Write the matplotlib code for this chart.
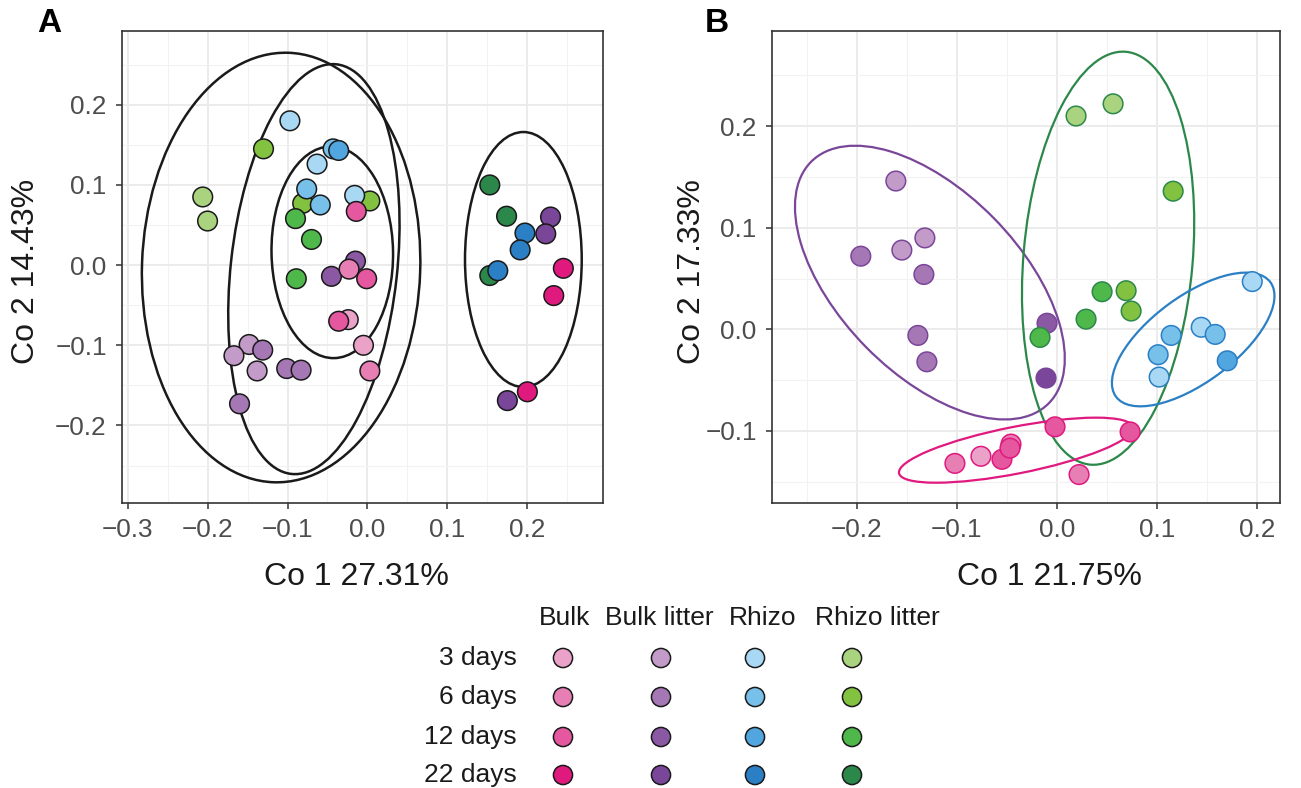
import matplotlib
matplotlib.use("Agg")
from matplotlib import pyplot as plt
from matplotlib.patches import Ellipse
import numpy as np

plt.rcParams["font.family"] = ["Liberation Sans", "DejaVu Sans"]

treatments = ["Bulk", "Bulk litter", "Rhizo", "Rhizo litter"]
times = ["3 days", "6 days", "12 days", "22 days"]

# fill colours, rows = treatment, cols = time
colors = {
    "Bulk": ["#EBA2C8", "#E87FB4", "#E5589F", "#E0197F"],
    "Bulk litter": ["#C39BC8", "#A578B5", "#8B58A4", "#7A4699"],
    "Rhizo": ["#A8D8F4", "#77C0EA", "#52A6DF", "#2B7FC4"],
    "Rhizo litter": ["#A9D37F", "#83C241", "#4FB84B", "#2C884A"],
}
group_line = {"Bulk": "#E0197F", "Bulk litter": "#7A4699",
              "Rhizo": "#2B7FC4", "Rhizo litter": "#2C884A"}

# ---------------------------------------------------------------- panel A
a_trt = ["Rhizo litter"] * 11 + ["Rhizo"] * 10 + ["Bulk litter"] * 12 + ["Bulk"] * 10
a_time = [0, 0, 1, 1, 1, 2, 2, 2, 3, 3, 3,
          0, 0, 0, 1, 1, 1, 2, 3, 3, 3,
          0, 0, 0, 1, 1, 1, 1, 2, 2, 3, 3, 3,
          0, 0, 1, 1, 2, 2, 2, 3, 3, 3]
a_x = [-0.206, -0.200, -0.130, -0.081, 0.003, -0.090, -0.070, -0.089, 0.153, 0.174, 0.153,
       -0.097, -0.063, -0.016, -0.076, -0.059, -0.043, -0.036, 0.197, 0.191, 0.163,
       -0.148, -0.167, -0.138, -0.131, -0.101, -0.083, -0.160, -0.045, -0.015, 0.229, 0.223, 0.175,
       -0.024, -0.005, -0.023, 0.003, -0.014, -0.001, -0.036, 0.245, 0.233, 0.200]
a_y = [0.085, 0.055, 0.145, 0.077, 0.080, 0.058, 0.032, -0.017, 0.100, 0.061, -0.013,
       0.180, 0.126, 0.087, 0.095, 0.075, 0.145, 0.143, 0.040, 0.019, -0.007,
       -0.099, -0.113, -0.132, -0.106, -0.129, -0.131, -0.173, -0.014, 0.005, 0.060, 0.039, -0.169,
       -0.068, -0.100, -0.005, -0.132, 0.067, -0.017, -0.070, -0.004, -0.038, -0.158]

# ellipses: centre x, centre y, width, height, angle
a_ell_x = [-0.108, -0.067, -0.044, 0.195]
a_ell_y = [-0.003, -0.005, 0.016, 0.007]
a_ell_w = [0.348, 0.208, 0.152, 0.146]
a_ell_h = [0.536, 0.514, 0.264, 0.318]
a_ell_ang = [-2, -6.3, 1, 0]

# ---------------------------------------------------------------- panel B
b_trt = ["Bulk litter"] * 9 + ["Rhizo litter"] * 8 + ["Rhizo"] * 7 + ["Bulk"] * 8
b_time = [0, 0, 0, 1, 1, 1, 1, 2, 3,
          0, 0, 1, 1, 1, 2, 2, 2,
          0, 0, 0, 1, 1, 1, 2,
          0, 1, 1, 1, 2, 2, 2, 2]
b_x = [-0.161, -0.155, -0.132, -0.196, -0.133, -0.139, -0.130, -0.010, -0.011,
       0.019, 0.056, 0.116, 0.069, 0.074, 0.045, 0.029, -0.017,
       0.195, 0.144, 0.102, 0.114, 0.158, 0.101, 0.170,
       -0.076, -0.102, -0.046, 0.022, -0.055, -0.047, -0.002, 0.073]
b_y = [0.146, 0.078, 0.090, 0.072, 0.054, -0.006, -0.032, 0.006, -0.048,
       0.210, 0.222, 0.136, 0.038, 0.018, 0.037, 0.010, -0.008,
       0.047, 0.002, -0.047, -0.006, -0.005, -0.025, -0.031,
       -0.125, -0.132, -0.113, -0.143, -0.128, -0.117, -0.096, -0.101]

b_ell_trt = ["Bulk litter", "Rhizo litter", "Rhizo", "Bulk"]
b_ell_x = [-0.127, 0.051, 0.136, -0.041]
b_ell_y = [0.046, 0.070, -0.010, -0.119]
b_ell_w = [0.336, 0.169, 0.191, 0.238]
b_ell_h = [0.180, 0.408, 0.085, 0.046]
b_ell_ang = [-45, -5, 36, 11]

W, H = 1301, 788
fig = plt.figure(figsize=(W / 100, H / 100), dpi=100)


def px_axes(l, t, r, b):
    return fig.add_axes([l / W, 1 - b / H, (r - l) / W, (b - t) / H])


def style(ax, xlim, ylim, xt, yt):
    ax.set_xticks(xt)
    ax.set_yticks(yt)
    ax.set_xticks(np.arange(-0.25, 0.3, 0.1), minor=True)
    ax.set_yticks(np.arange(-0.25, 0.3, 0.1), minor=True)
    ax.set_xlim(*xlim)
    ax.set_ylim(*ylim)
    ax.grid(which="major", color="#EBEBEB", lw=1.4)
    ax.grid(which="minor", color="#F2F2F2", lw=0.8)
    ax.set_axisbelow(True)
    ax.tick_params(which="major", length=4.5, width=1.1, color="#333333",
                   labelsize=18.8, labelcolor="#4D4D4D", pad=6.5)
    ax.tick_params(which="minor", length=0)
    for s in ax.spines.values():
        s.set_color("#333333")
        s.set_linewidth(1.2)
    ax.set_xticklabels([f"{v:.1f}".replace("-", "\u2212") for v in xt])
    ax.set_yticklabels([f"{v:.1f}".replace("-", "\u2212") for v in yt])


def labels(ax, xl, yl, xl_pos, yl_pos):
    ax.set_xlabel(xl, fontsize=23, color="#1A1A1A", va="center", ha="center")
    ax.set_ylabel(yl, fontsize=23, color="#1A1A1A", va="center", ha="center")
    ax.xaxis.set_label_coords(*xl_pos)
    ax.yaxis.set_label_coords(*yl_pos)


ax0 = px_axes(122, 31, 603, 503)
style(ax0, (-0.307, 0.2946), (-0.2967, 0.292),
      [-0.3, -0.2, -0.1, 0.0, 0.1, 0.2], [-0.2, -0.1, 0.0, 0.1, 0.2])
for x, y, w, h, a in zip(a_ell_x, a_ell_y, a_ell_w, a_ell_h, a_ell_ang):
    ax0.add_patch(Ellipse((x, y), w, h, angle=a, fill=False, ec="#1A1A1A", lw=1.8, zorder=3))
a_fc = [colors[t][i] for t, i in zip(a_trt, a_time)]
ax0.scatter(a_x, a_y, s=200, c=a_fc, edgecolors="#1A1A1A", linewidths=1.1, zorder=4)
labels(ax0, "Co 1 27.31%", "Co 2 14.43%", (0.4865, -0.157), (-0.199, 0.49))
fig.text(37 / W, 1 - 24 / H, "A", fontsize=24, fontweight="bold", va="center", ha="left")

ax1 = px_axes(772, 31, 1280, 503)
style(ax1, (-0.2847, 0.2227), (-0.171, 0.2937),
      [-0.2, -0.1, 0.0, 0.1, 0.2], [-0.1, 0.0, 0.1, 0.2])
for t, x, y, w, h, a in zip(b_ell_trt, b_ell_x, b_ell_y, b_ell_w, b_ell_h, b_ell_ang):
    ax1.add_patch(Ellipse((x, y), w, h, angle=a, fill=False, ec=group_line[t], lw=1.6, zorder=3))
b_fc = [colors[t][i] for t, i in zip(b_trt, b_time)]
b_ec = [group_line[t] for t in b_trt]
ax1.scatter(b_x, b_y, s=200, c=b_fc, edgecolors=b_ec, linewidths=1.1, zorder=4)
labels(ax1, "Co 1 21.75%", "Co 2 17.33%", (0.547, -0.157), (-0.157, 0.49))
fig.text(705 / W, 1 - 24 / H, "B", fontsize=24, fontweight="bold", va="center", ha="left")

# ---------------------------------------------------------------- legend
leg = px_axes(0, 0, W, H)
leg.set_xlim(0, W)
leg.set_ylim(H, 0)
leg.axis("off")
leg.patch.set_alpha(0)
leg_col_x = [563, 661, 755, 852]
leg_head_x = [565, 659, 763, 877]
leg_row_y = [658, 697, 737, 775]
for j, t in enumerate(treatments):
    leg.text(leg_head_x[j], 618, t, fontsize=19, color="#1A1A1A", ha="center", va="center")
    leg.scatter([leg_col_x[j]] * 4, leg_row_y, s=190, c=colors[t],
                edgecolors="#1A1A1A", linewidths=1.1)
for i, lab in enumerate(times):
    leg.text(517, leg_row_y[i], lab, fontsize=19, color="#1A1A1A", ha="right", va="center")

fig.savefig("out.png", dpi=100)
